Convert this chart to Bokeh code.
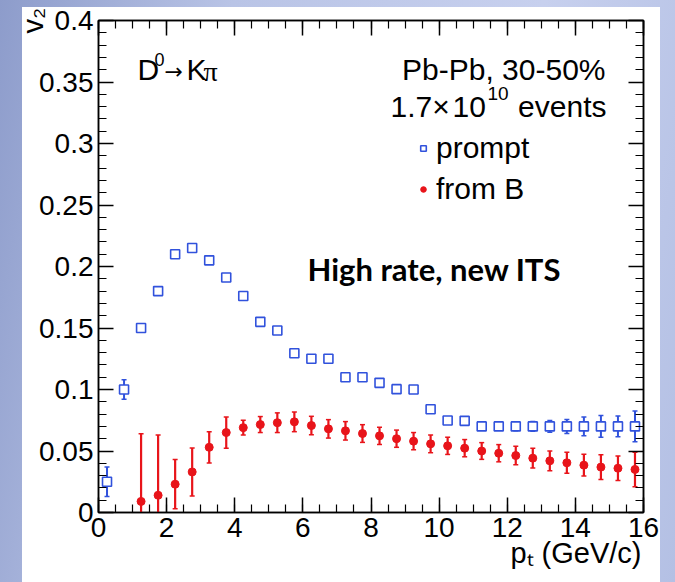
from bokeh.plotting import figure
from bokeh.models import (Range1d, LinearAxis, SingleIntervalTicker, CustomJSTickFormatter,
                          CustomLabelingPolicy, Whisker, TeeHead, ColumnDataSource, Label,
                          Legend, LegendItem, Title)
from bokeh.layouts import column
from bokeh.embed import file_html
from bokeh.resources import INLINE

# ---------------- data ----------------
prompt_pt = [0.25, 0.75, 1.25, 1.75, 2.25, 2.75, 3.25, 3.75, 4.25, 4.75, 5.25, 5.75,
             6.25, 6.75, 7.25, 7.75, 8.25, 8.75, 9.25, 9.75, 10.25, 10.75, 11.25, 11.75,
             12.25, 12.75, 13.25, 13.75, 14.25, 14.75, 15.25, 15.75]
prompt_v2 = [0.025, 0.100, 0.150, 0.180, 0.210, 0.215, 0.205, 0.191, 0.176, 0.155, 0.148, 0.1295,
             0.125, 0.125, 0.110, 0.110, 0.1054, 0.1003, 0.100, 0.084, 0.0748, 0.0745, 0.070, 0.070,
             0.070, 0.070, 0.070, 0.070, 0.070, 0.070, 0.070, 0.070]
prompt_err = [0.012, 0.008, 0.003, 0.003, 0.001, 0.001, 0.001, 0.001, 0.001, 0.001, 0.001, 0.001,
              0.003, 0.003, 0.002, 0.002, 0.003, 0.003, 0.003, 0.003, 0.003, 0.003, 0.003, 0.003,
              0.0035, 0.004, 0.0048, 0.0057, 0.0076, 0.0088, 0.0085, 0.0125]

fromb_pt = [1.25, 1.75, 2.25, 2.75, 3.25, 3.75, 4.25, 4.75, 5.25, 5.75,
            6.25, 6.75, 7.25, 7.75, 8.25, 8.75, 9.25, 9.75, 10.25, 10.75,
            11.25, 11.75, 12.25, 12.75, 13.25, 13.75, 14.25, 14.75, 15.25, 15.75]
fromb_v2 = [0.009, 0.014, 0.023, 0.033, 0.053, 0.065, 0.069, 0.0715, 0.073, 0.0737,
            0.0707, 0.068, 0.0664, 0.0642, 0.0623, 0.060, 0.058, 0.0558, 0.0542, 0.0523,
            0.050, 0.0482, 0.0463, 0.0442, 0.042, 0.0404, 0.0385, 0.0369, 0.036, 0.035]
fromb_err = [0.055, 0.049, 0.020, 0.0195, 0.0127, 0.0127, 0.006, 0.0065, 0.008, 0.008,
             0.0075, 0.0075, 0.0075, 0.0072, 0.007, 0.007, 0.007, 0.0072, 0.007, 0.007,
             0.0068, 0.007, 0.0075, 0.008, 0.008, 0.0085, 0.0088, 0.010, 0.010, 0.014]

x_ticks_interval = 2
y_ticks_interval = 0.05
x_title = "p\u209c (GeV/c)"
y_title = "v\u2082"

BLUE = "#3152dc"
RED = "#e8141a"
FONT = "Liberation Sans"
TXT = "30px"

# ---------------- figure ----------------
FIG_LEFT = 14        # page x of the figure's left edge
PANEL_LEFT = 22      # page x where the white panel starts
PANEL_TOP = 7        # page y where the white panel starts
FRAME_LEFT = 98      # page x of the plot frame's left edge
FRAME_TOP = 20       # page y of the plot frame's top edge
FRAME_BOTTOM = 512   # page y of the plot frame's bottom edge

p = figure(width=675 - FIG_LEFT - 15, height=582, x_range=Range1d(0, 16), y_range=Range1d(0, 0.4),
           output_backend="svg", toolbar_location=None,
           x_axis_type=None, y_axis_type=None,
           min_border_left=FRAME_LEFT - FIG_LEFT, min_border_right=17,
           min_border_top=FRAME_TOP, min_border_bottom=582 - FRAME_BOTTOM)
p.margin = (0, 15, 0, FIG_LEFT)
p.background_fill_color = "white"
p.border_fill_alpha = 0
p.styles = {
    "background-image": "linear-gradient(#ffffff, #ffffff)",
    "background-size": "calc(100%% - %dpx) calc(100%% - %dpx)" % (PANEL_LEFT - FIG_LEFT, PANEL_TOP),
    "background-position": "right bottom",
    "background-repeat": "no-repeat",
}
p.outline_line_color = "black"
p.outline_line_width = 1.5

no_labels = CustomLabelingPolicy(code="return new Set()")


def make_axis(ticker_interval, minor, show_labels, formatter=None):
    ax = LinearAxis(ticker=SingleIntervalTicker(interval=ticker_interval, num_minor_ticks=minor))
    ax.major_tick_in = 15
    ax.major_tick_out = 0
    ax.minor_tick_in = 8
    ax.minor_tick_out = 0
    ax.axis_line_color = "black"
    ax.axis_line_width = 1.5
    ax.major_tick_line_width = 1.5
    ax.minor_tick_line_width = 1.2
    ax.major_label_text_font = FONT
    ax.major_label_text_color = "black"
    if show_labels:
        ax.major_label_text_font_size = "28px"
        ax.major_label_standoff = 5
    else:
        ax.major_label_policy = no_labels
        ax.major_label_text_font_size = "0px"
        ax.major_label_standoff = 0
    if formatter is not None:
        ax.formatter = formatter
    return ax


yfmt = CustomJSTickFormatter(code="return tick.toFixed(2).replace(/0+$/, '').replace(/\\.$/, '');")
left_ax = make_axis(y_ticks_interval, 5, True, yfmt)
left_ax.axis_label = y_title
left_ax.axis_label_text_font = FONT
left_ax.axis_label_text_font_size = "29px"
left_ax.axis_label_text_font_style = "normal"
left_ax.axis_label_text_color = "black"
left_ax.axis_label_standoff = -13
if "axis_label_align" in left_ax.properties():
    left_ax.axis_label_align = "end"

p.add_layout(left_ax, "left")
p.add_layout(make_axis(y_ticks_interval, 5, False), "right")
p.add_layout(make_axis(x_ticks_interval, 4, True), "below")
p.add_layout(make_axis(x_ticks_interval, 4, False), "above")

# x-axis title, right-aligned at the end of the axis (ROOT style)
p.add_layout(Title(text=x_title, align="right", text_font=FONT, text_font_size="29px",
                   text_font_style="normal", text_color="black", standoff=-10, offset=2),
             "below")

# ---------------- data glyphs ----------------
src_b = ColumnDataSource(dict(x=prompt_pt, y=prompt_v2,
                              lo=[v - e for v, e in zip(prompt_v2, prompt_err)],
                              hi=[v + e for v, e in zip(prompt_v2, prompt_err)]))
src_r = ColumnDataSource(dict(x=fromb_pt, y=fromb_v2,
                              lo=[v - e for v, e in zip(fromb_v2, fromb_err)],
                              hi=[v + e for v, e in zip(fromb_v2, fromb_err)]))

for src, col, lw in ((src_b, BLUE, 2), (src_r, RED, 2.2)):
    w = Whisker(source=src, base="x", lower="lo", upper="hi", line_color=col, line_width=lw,
                upper_head=TeeHead(size=5, line_color=col, line_width=1.5),
                lower_head=TeeHead(size=5, line_color=col, line_width=1.5),
                level="underlay")
    p.add_layout(w)

r_b = p.scatter("x", "y", source=src_b, marker="square", size=9, fill_color="white",
                line_color=BLUE, line_width=1.6)
r_r = p.scatter("x", "y", source=src_r, marker="circle", size=8, fill_color=RED,
                line_color=RED, line_width=1)

legend = Legend(items=[LegendItem(label="prompt", renderers=[r_b]),
                       LegendItem(label="from B", renderers=[r_r])],
                location=(318, 306), orientation="vertical",
                background_fill_alpha=0, border_line_alpha=0,
                label_text_font=FONT, label_text_font_size=TXT, label_text_color="black",
                glyph_width=14, glyph_height=30, label_height=30, spacing=7,
                padding=0, margin=0, label_standoff=6)
p.add_layout(legend)


# ---------------- texts (positions in page pixels -> screen offsets from frame bottom-left) ----------------
def add_text(txt, px, py, size=TXT, align="left", font=FONT, style="normal"):
    p.add_layout(Label(x=px - FRAME_LEFT, y=FRAME_BOTTOM - py, x_units="screen", y_units="screen",
                       text=txt, text_font=font, text_font_size=size,
                       text_align=align, text_baseline="middle", text_color="black",
                       text_font_style=style))


# decay channel
add_text("D", 137, 69)
add_text("0", 154, 59, "18px")
add_text("\u2192", 164, 71, "22px", font="DejaVu Sans")
add_text("K", 186, 69)
add_text("\u03c0", 203, 71, "28px", font="Liberation Serif")

# system
add_text("Pb-Pb, 30-50%", 605, 69, align="right")
add_text("1.7\u00d7", 390, 106)
add_text("10", 452, 106)
add_text("10", 487, 93, "19px")
add_text("events", 606, 106, align="right")

add_text("High rate, new ITS", 307, 268, "31px", font="Lato", style="bold")

page = column(p, width=675, height=582,
              styles={"background": "linear-gradient(100deg, #8d9ccb 0%, #b9c4e6 30%, #c7d0ee 70%, #b4c0e4 100%)"})

open("out.html", "w").write(file_html(page, INLINE))
